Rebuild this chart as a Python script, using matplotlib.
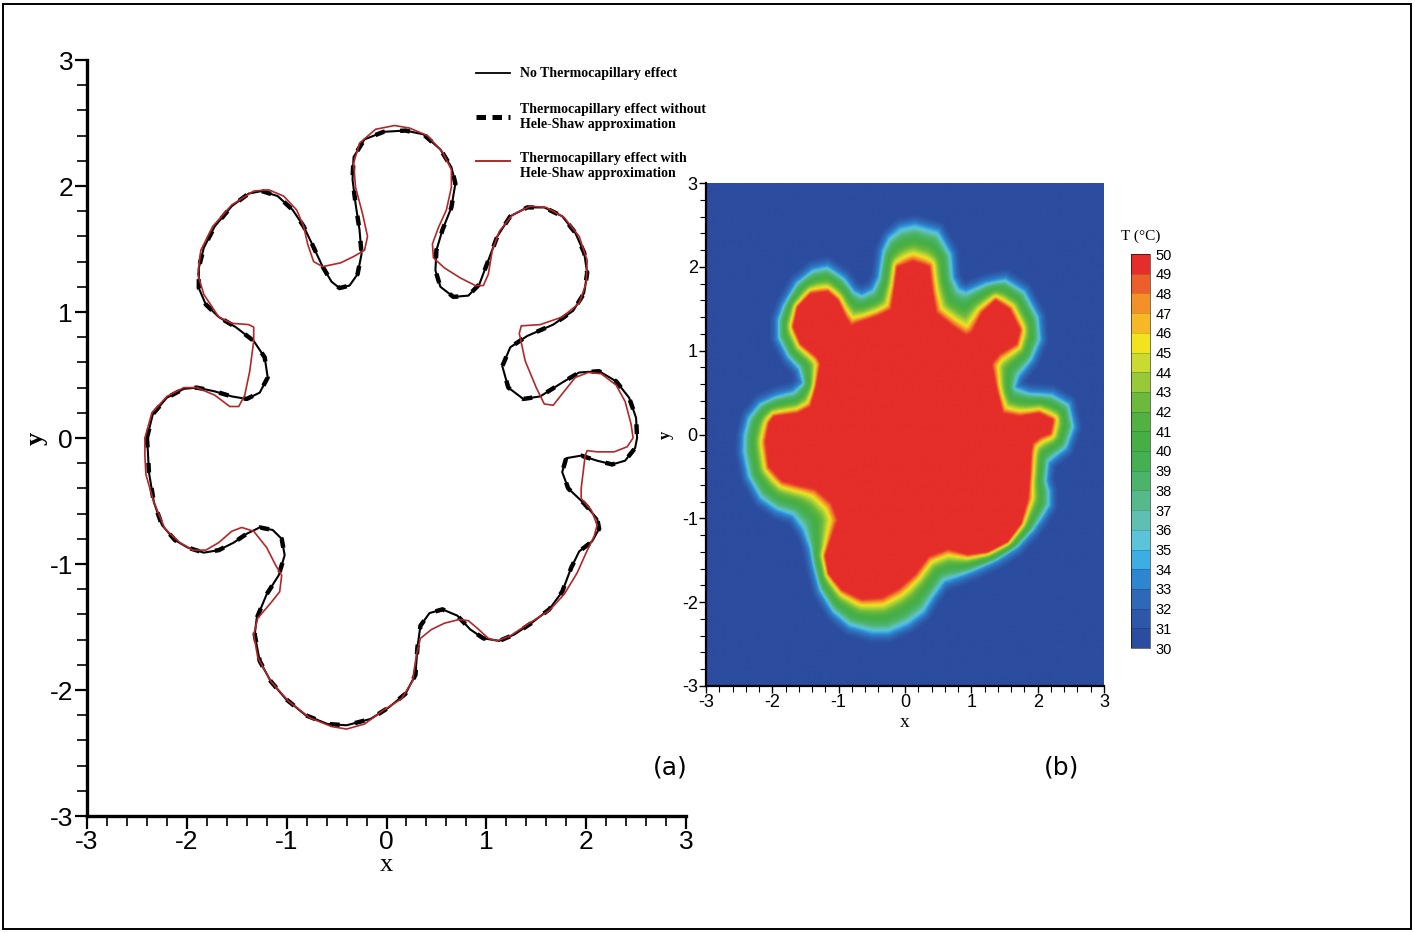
import matplotlib.pyplot as plt
import numpy as np
from matplotlib.cm import ScalarMappable
from matplotlib.colors import BoundaryNorm, LinearSegmentedColormap, ListedColormap
from matplotlib.lines import Line2D
from matplotlib.patches import Rectangle
from matplotlib.path import Path
from matplotlib.ticker import MultipleLocator

plt.rcParams['axes.unicode_minus'] = False

SANS = ['Liberation Sans Narrow', 'Liberation Sans', 'DejaVu Sans']
SERIF = ['Liberation Serif', 'DejaVu Serif']

# --- (a) interface position, no thermocapillary effect (x, y) ---
NO_TC_X = [-2.40, -2.34, -2.20, -2.03, -1.90, -1.72, -1.55, -1.40, -1.27, -1.19,
           -1.22, -1.33, -1.51, -1.68, -1.81, -1.88, -1.88, -1.83, -1.72, -1.55,
           -1.38, -1.25, -1.09, -0.94, -0.83, -0.74, -0.64, -0.55, -0.47, -0.37,
           -0.29, -0.25, -0.27, -0.31, -0.34, -0.33, -0.22, -0.03, 0.19, 0.37,
           0.54, 0.65, 0.69, 0.65, 0.56, 0.50, 0.49, 0.54, 0.67, 0.82,
           0.93, 1.02, 1.11, 1.24, 1.41, 1.58, 1.76, 1.89, 1.98, 2.01,
           1.98, 1.87, 1.67, 1.41, 1.24, 1.16, 1.22, 1.37, 1.54, 1.76,
           1.93, 2.13, 2.30, 2.43, 2.50, 2.51,
           2.49, 2.39, 2.26, 2.11, 1.95, 1.80, 1.76, 1.82, 1.98, 2.11,
           2.13, 2.06, 1.93, 1.85, 1.76, 1.63, 1.45, 1.28, 1.13, 0.97,
           0.84, 0.71, 0.56, 0.43, 0.34, 0.31, 0.29, 0.19, 0.02, -0.16,
           -0.40, -0.59, -0.81, -1.01, -1.16, -1.27, -1.32, -1.30, -1.20, -1.08,
           -1.02, -1.05, -1.14, -1.27, -1.40, -1.53, -1.68, -1.83, -1.99, -2.12,
           -2.25, -2.33, -2.38, -2.39, -2.40]
NO_TC_Y = [0.00, 0.19, 0.32, 0.39, 0.40, 0.37, 0.33, 0.31, 0.36, 0.48,
           0.64, 0.77, 0.88, 0.96, 1.06, 1.19, 1.35, 1.51, 1.68, 1.84,
           1.94, 1.96, 1.92, 1.81, 1.68, 1.53, 1.36, 1.24, 1.19, 1.21,
           1.30, 1.46, 1.65, 1.86, 2.05, 2.23, 2.37, 2.43, 2.44, 2.41,
           2.29, 2.15, 2.02, 1.83, 1.65, 1.49, 1.33, 1.20, 1.12, 1.13,
           1.22, 1.41, 1.60, 1.76, 1.83, 1.83, 1.76, 1.63, 1.47, 1.31,
           1.15, 1.01, 0.90, 0.81, 0.72, 0.57, 0.40, 0.31, 0.33, 0.44,
           0.52, 0.53, 0.45, 0.32, 0.16, 0.00,
           -0.08, -0.18, -0.21, -0.18, -0.14, -0.16, -0.27, -0.40, -0.52, -0.64,
           -0.72, -0.82, -0.90, -1.03, -1.22, -1.36, -1.47, -1.56, -1.61, -1.59,
           -1.52, -1.41, -1.36, -1.39, -1.49, -1.66, -1.88, -2.03, -2.14, -2.23,
           -2.28, -2.27, -2.20, -2.07, -1.93, -1.77, -1.56, -1.43, -1.24, -1.09,
           -0.93, -0.80, -0.73, -0.71, -0.76, -0.83, -0.89, -0.91, -0.87, -0.81,
           -0.69, -0.51, -0.27, -0.11, 0.00]

# --- (a) interface position, thermocapillary effect with Hele-Shaw approximation ---
HS_X = [-2.42, -2.35, -2.20, -2.03, -1.90, -1.72, -1.57, -1.48, -1.42, -1.37,
        -1.33, -1.33, -1.38, -1.55, -1.68, -1.83, -1.89, -1.86, -1.74, -1.55,
        -1.33, -1.18, -1.03, -0.90, -0.83, -0.79, -0.73, -0.64, -0.46, -0.33,
        -0.22, -0.19, -0.24, -0.31, -0.33, -0.27, -0.11, 0.08, 0.23, 0.41,
        0.56, 0.65, 0.65, 0.60, 0.52, 0.46, 0.47, 0.58, 0.74, 0.89,
        0.97, 1.02, 1.06, 1.13, 1.26, 1.44, 1.60, 1.78, 1.93, 2.01,
        2.00, 1.93, 1.76, 1.54, 1.35, 1.33, 1.39, 1.50, 1.58, 1.67,
        1.76, 1.89, 2.02, 2.15, 2.30, 2.39, 2.45, 2.47,
        2.41, 2.28, 2.11, 2.01, 1.99, 1.95, 1.95, 2.05, 2.11, 2.08,
        2.00, 1.91, 1.78, 1.63, 1.41, 1.24, 1.11, 1.02, 0.91, 0.82,
        0.73, 0.58, 0.45, 0.34, 0.30, 0.26, 0.15, -0.03, -0.22, -0.40,
        -0.55, -0.77, -0.98, -1.16, -1.29, -1.33, -1.29, -1.16, -1.07, -1.05,
        -1.11, -1.20, -1.33, -1.45, -1.55, -1.68, -1.81, -1.94, -2.07, -2.22,
        -2.33, -2.41, -2.42, -2.42]
HS_Y = [0.00, 0.20, 0.33, 0.40, 0.40, 0.34, 0.25, 0.25, 0.34, 0.53,
        0.77, 0.88, 0.90, 0.91, 0.96, 1.14, 1.30, 1.49, 1.68, 1.85,
        1.96, 1.97, 1.92, 1.81, 1.68, 1.54, 1.40, 1.36, 1.39, 1.44,
        1.49, 1.60, 1.78, 1.99, 2.18, 2.34, 2.45, 2.48, 2.46, 2.40,
        2.27, 2.13, 1.99, 1.81, 1.67, 1.54, 1.43, 1.35, 1.27, 1.21,
        1.21, 1.30, 1.49, 1.64, 1.77, 1.84, 1.83, 1.75, 1.60, 1.41,
        1.23, 1.07, 0.96, 0.90, 0.89, 0.83, 0.61, 0.40, 0.27, 0.26,
        0.35, 0.48, 0.52, 0.51, 0.42, 0.29, 0.11, 0.00,
        -0.07, -0.11, -0.11, -0.10, -0.14, -0.40, -0.48, -0.57, -0.69, -0.78,
        -0.91, -1.07, -1.24, -1.37, -1.48, -1.57, -1.61, -1.59, -1.51, -1.45,
        -1.44, -1.47, -1.52, -1.59, -1.72, -1.93, -2.07, -2.16, -2.27, -2.31,
        -2.29, -2.22, -2.09, -1.93, -1.74, -1.56, -1.43, -1.31, -1.22, -1.09,
        -1.01, -0.87, -0.74, -0.71, -0.74, -0.83, -0.89, -0.89, -0.83, -0.72,
        -0.51, -0.29, -0.14, 0.00]

# --- (b) temperature field: outer edge of heated zone (~33 °C) ---
EDGE_X = [0.15, 0.51, 0.71, 0.74, 0.82, 0.92, 1.22, 1.52, 1.82, 2.03,
          2.06, 1.93, 1.73, 1.68, 1.88, 2.23, 2.49, 2.57, 2.45, 2.30,
          2.18, 2.15, 2.20, 2.20, 2.10, 1.95, 1.70, 1.40, 1.10, 0.85,
          0.60, 0.43, 0.30, 0.05, -0.25, -0.50, -0.85, -1.10, -1.30, -1.40,
          -1.45, -1.55, -1.70, -1.95, -2.20, -2.38, -2.46, -2.45, -2.38, -2.20,
          -1.95, -1.70, -1.56, -1.62, -1.78, -1.93, -1.93, -1.85, -1.65, -1.40,
          -1.17, -0.91, -0.76, -0.65, -0.50, -0.41, -0.35, -0.26, -0.08]
EDGE_Y = [2.52, 2.44, 2.16, 1.88, 1.76, 1.72, 1.82, 1.87, 1.72, 1.41,
          1.13, 0.89, 0.69, 0.57, 0.51, 0.49, 0.37, 0.09, -0.17, -0.26,
          -0.34, -0.55, -0.68, -0.85, -0.98, -1.15, -1.36, -1.51, -1.62, -1.70,
          -1.77, -1.96, -2.13, -2.28, -2.38, -2.38, -2.30, -2.13, -1.87, -1.57,
          -1.36, -1.15, -0.98, -0.91, -0.77, -0.51, -0.21, 0.00, 0.21, 0.38,
          0.47, 0.52, 0.62, 0.78, 0.92, 1.15, 1.38, 1.55, 1.82, 1.98,
          2.02, 1.88, 1.72, 1.68, 1.74, 1.88, 2.20, 2.36, 2.48]

# --- (b) temperature field: 50 °C core ---
CORE_X = [-0.11, 0.12, 0.36, 0.41, 0.46, 0.71, 0.92, 1.02, 1.17, 1.37,
          1.58, 1.73, 1.68, 1.42, 1.30, 1.37, 1.47, 1.73, 2.03, 2.23,
          2.19, 2.05, 1.92, 1.90, 1.88, 1.85, 1.75, 1.55, 1.25, 0.95,
          0.65, 0.35, 0.15, -0.10, -0.35, -0.65, -0.95, -1.15, -1.20, -1.10,
          -1.00, -1.10, -1.35, -1.60, -1.85, -2.05, -2.10, -2.05, -1.98, -1.62,
          -1.42, -1.34, -1.27, -1.32, -1.57, -1.68, -1.62, -1.42, -1.17, -1.02,
          -0.91, -0.82, -0.71, -0.41, -0.20, -0.15]
CORE_Y = [2.00, 2.06, 2.00, 1.68, 1.45, 1.29, 1.17, 1.21, 1.45, 1.60,
          1.49, 1.25, 1.09, 0.97, 0.85, 0.57, 0.25, 0.21, 0.25, 0.17,
          0.02, -0.02, -0.10, -0.21, -0.51, -0.77, -1.06, -1.28, -1.40, -1.43,
          -1.36, -1.45, -1.66, -1.83, -1.94, -1.96, -1.85, -1.66, -1.45, -1.23,
          -1.02, -0.81, -0.64, -0.60, -0.55, -0.38, -0.09, 0.13, 0.21, 0.25,
          0.33, 0.57, 0.85, 0.93, 1.09, 1.29, 1.52, 1.68, 1.70, 1.60,
          1.41, 1.29, 1.33, 1.41, 1.49, 1.76]

# temperature across the transition band (0 = outer edge, 1 = core)
BAND_FRAC = [0.00, 0.12, 0.22, 0.62, 0.75, 0.86, 0.95, 1.00]
BAND_T = [33.5, 36.0, 38.0, 43.0, 45.0, 47.5, 49.5, 50.0]
# fall-off outside the edge
OUTSIDE_D = [0.00, 0.12]
OUTSIDE_T = [33.5, 30.0]

T_LEVELS = list(range(30, 51))
T_COLORS = ['#2b4c9f', '#2d58a8', '#2f68b6', '#2e86d0', '#3caee4',
            '#5bc4d8', '#5ec0b0', '#55b98a', '#4bb46a', '#45b052',
            '#45ae45', '#52b140', '#6bb93d', '#98c938', '#c9da30',
            '#f1e41f', '#f6b826', '#f39028', '#ec5f2b', '#e52d2a']

LEGEND_LABELS = ['No Thermocapillary effect',
                 'Thermocapillary effect without\nHele-Shaw approximation',
                 'Thermocapillary effect with\nHele-Shaw approximation']


def dist_to_loop(px, py, xs, ys):
    ax_, ay = np.asarray(xs), np.asarray(ys)
    bx, by = np.roll(ax_, -1), np.roll(ay, -1)
    dx, dy = bx - ax_, by - ay
    out = np.empty(px.size)
    for i in range(0, px.size, 4000):
        qx = px[i:i + 4000, None]
        qy = py[i:i + 4000, None]
        t = np.clip(((qx - ax_) * dx + (qy - ay) * dy) / (dx * dx + dy * dy), 0, 1)
        d2 = (qx - ax_ - t * dx) ** 2 + (qy - ay - t * dy) ** 2
        out[i:i + 4000] = np.sqrt(d2.min(axis=1))
    return out


def temperature_field(n=360):
    g = np.linspace(-3, 3, n)
    gx, gy = np.meshgrid(g, g)
    px, py = gx.ravel(), gy.ravel()
    pts = np.column_stack([px, py])
    in_edge = Path(np.column_stack([EDGE_X, EDGE_Y])).contains_points(pts)
    in_core = Path(np.column_stack([CORE_X, CORE_Y])).contains_points(pts)
    d_edge = dist_to_loop(px, py, EDGE_X, EDGE_Y)
    d_core = dist_to_loop(px, py, CORE_X, CORE_Y)

    T = np.interp(d_edge, OUTSIDE_D, OUTSIDE_T)
    band = in_edge & ~in_core
    frac = d_edge[band] / (d_edge[band] + d_core[band])
    T[band] = np.interp(frac, BAND_FRAC, BAND_T)
    T[in_core] = 50.0
    return T.reshape(n, n)


fig = plt.figure(figsize=(14.15, 9.32), dpi=100)
W, H = 1415, 932

# ---------------- (a) interface comparison ----------------
ax1 = fig.add_axes([87 / W, 1 - 816 / H, 599 / W, 756 / H])
ax1.plot(NO_TC_X + NO_TC_X[:1], NO_TC_Y + NO_TC_Y[:1], color='black', lw=1.5, zorder=2)
ax1.plot(NO_TC_X + NO_TC_X[:1], NO_TC_Y + NO_TC_Y[:1], color='black', lw=3.2,
         dashes=(2.2, 3.5), zorder=3)
ax1.plot(HS_X + HS_X[:1], HS_Y + HS_Y[:1], color='#b3272b', lw=1.2, zorder=4)

ax1.set_xlim(-3, 3)
ax1.set_ylim(-3, 3)
for s in ('top', 'right'):
    ax1.spines[s].set_visible(False)
for s in ('left', 'bottom'):
    ax1.spines[s].set_linewidth(2.4)
ax1.xaxis.set_major_locator(MultipleLocator(1))
ax1.yaxis.set_major_locator(MultipleLocator(1))
ax1.xaxis.set_minor_locator(MultipleLocator(0.2))
ax1.yaxis.set_minor_locator(MultipleLocator(0.2))
ax1.tick_params(which='major', direction='out', length=9, width=1.6, pad=1)
ax1.tick_params(which='minor', direction='out', length=7, width=1.2)
for lab in ax1.get_xticklabels() + ax1.get_yticklabels():
    lab.set_family(SANS)
    lab.set_fontsize(19)
ax1.set_xlabel('x', family=SERIF, fontsize=19, labelpad=0)
ax1.set_ylabel('y', family=SERIF, fontsize=19, fontweight='bold', labelpad=1)

# legend, laid out entry by entry in figure pixels
leg_font = dict(family=SERIF, fontweight='bold', fontsize=10, linespacing=1.2)
leg_handles = [
    dict(color='black', lw=1.3),
    dict(color='black', lw=3.6, dashes=(1.9, 1.3)),
    dict(color='#b3272b', lw=1.4),
]
handle_y = [73, 117, 161]
text_y = [73, 117, 166]
for style, hy, ty, lab in zip(leg_handles, handle_y, text_y, LEGEND_LABELS):
    fig.add_artist(Line2D([476 / W, 510 / W], [1 - hy / H, 1 - hy / H],
                          transform=fig.transFigure, **style))
    fig.text(520 / W, 1 - ty / H, lab, ha='left', va='center', **leg_font)

# ---------------- (b) temperature field ----------------
ax2 = fig.add_axes([706 / W, 1 - 686 / H, 398 / W, 503 / H])
cmap_smooth = LinearSegmentedColormap.from_list('tmap', T_COLORS)
ax2.imshow(temperature_field(), extent=[-3, 3, -3, 3], origin='lower',
           cmap=cmap_smooth, vmin=30, vmax=50, interpolation='bilinear', aspect='auto')
ax2.set_xlim(-3, 3)
ax2.set_ylim(-3, 3)
for s in ('top', 'right'):
    ax2.spines[s].set_visible(False)
for s in ('left', 'bottom'):
    ax2.spines[s].set_linewidth(1.6)
ax2.xaxis.set_major_locator(MultipleLocator(1))
ax2.yaxis.set_major_locator(MultipleLocator(1))
ax2.xaxis.set_minor_locator(MultipleLocator(0.2))
ax2.yaxis.set_minor_locator(MultipleLocator(0.2))
ax2.tick_params(which='major', direction='out', length=5, width=1.0, pad=1)
ax2.tick_params(which='minor', direction='out', length=4, width=0.8)
for lab in ax2.get_xticklabels() + ax2.get_yticklabels():
    lab.set_family(SANS)
    lab.set_fontsize(13)
ax2.set_xlabel('x', family=SERIF, fontsize=14, labelpad=2)
ax2.set_ylabel('y', family=SERIF, fontsize=12, fontweight='bold', labelpad=6)

cax = fig.add_axes([1131 / W, 1 - 648 / H, 19 / W, 394 / H])
norm = BoundaryNorm(T_LEVELS, len(T_COLORS))
cb = fig.colorbar(ScalarMappable(norm=norm, cmap=ListedColormap(T_COLORS)), cax=cax,
                  ticks=T_LEVELS, drawedges=True)
cb.outline.set_linewidth(0.4)
cb.dividers.set_color((0, 0, 0, 0.18))
cb.dividers.set_linewidth(0.6)
cax.tick_params(length=0, pad=4)
for lab in cax.get_yticklabels():
    lab.set_family(SANS)
    lab.set_fontsize(10.5)
fig.text(1141 / W, 1 - 236 / H, 'T (\u00b0C)', ha='center', va='center',
         family=SERIF, fontsize=11)

fig.text(670 / W, 1 - 767 / H, '(a)', ha='center', va='center', family='DejaVu Sans', fontsize=18)
fig.text(1062 / W, 1 - 767 / H, '(b)', ha='center', va='center', family='DejaVu Sans', fontsize=18)

fig.add_artist(Rectangle((3 / W, 3 / H), 1408 / W, 925 / H, transform=fig.transFigure,
                         fill=False, lw=1.4, ec='black'))

fig.savefig('out.png', dpi=100)
